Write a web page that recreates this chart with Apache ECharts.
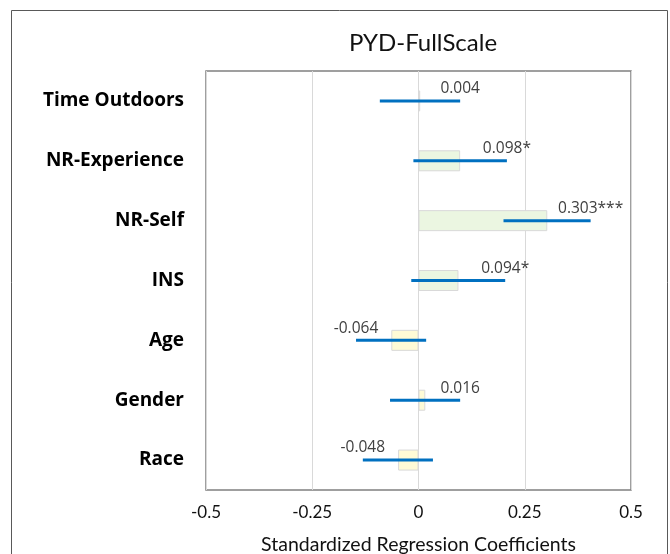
<!DOCTYPE html>
<html>
<head>
<meta charset="utf-8">
<script src="https://cdn.jsdelivr.net/npm/echarts@6/dist/echarts.min.js"></script>
<style>
html,body{margin:0;padding:0;background:#fff;}
#chart{width:670px;height:554px;}
</style>
</head>
<body>
<div id="chart"></div>
<script>
var categories = ['Time Outdoors', 'NR-Experience', 'NR-Self', 'INS', 'Age', 'Gender', 'Race'];
var coefs = [0.004, 0.098, 0.303, 0.094, -0.064, 0.016, -0.048];
var valueLabels = ['0.004', '0.098*', '0.303***', '0.094*', '-0.064', '0.016', '-0.048'];
var ciLow = [-0.091, -0.012, 0.200, -0.017, -0.147, -0.067, -0.131];
var ciHigh = [0.098, 0.208, 0.405, 0.204, 0.018, 0.098, 0.034];
var xTicks = [-0.5, -0.25, 0, 0.25, 0.5];
var barGroup = ['time', 'nr', 'nr', 'nr', 'demo', 'demo', 'demo'];

var groupColors = { time: '#EDEDED', nr: '#EBF6E1', demo: '#FFFBD6' };

var chart = echarts.init(document.getElementById('chart'));

var barData = coefs.map(function (v, i) {
  return { value: v, itemStyle: { color: groupColors[barGroup[i]] } };
});
var errData = categories.map(function (c, i) {
  return [i, ciLow[i], ciHigh[i], coefs[i]];
});

var option = {
  animation: false,
  title: {
    text: 'PYD-FullScale',
    left: 418,
    top: 26,
    textAlign: 'center',
    textStyle: { fontFamily: 'Lato', fontWeight: 'normal', fontSize: 24, color: '#111' }
  },
  graphic: [{
    type: 'rect',
    shape: { x: 11.5, y: 10.5, width: 656, height: 560 },
    style: { fill: 'none', stroke: '#595959', lineWidth: 1 },
    silent: true,
    z: -10
  }],
  grid: {
    left: 206, right: 39, top: 71, bottom: 64,
    outerBoundsMode: 'none',
    containLabel: false,
    show: true, borderColor: '#808080', borderWidth: 1.5
  },
  xAxis: {
    type: 'value',
    min: -0.5, max: 0.5, interval: 0.25,
    axisLine: { show: false },
    axisTick: { show: false },
    splitLine: { show: true, lineStyle: { color: '#D9D9D9', width: 1 } },
    axisLabel: {
      margin: 14,
      fontFamily: 'Lato', fontSize: 17, color: '#111',
      formatter: function (v) {
        var idx = xTicks.indexOf(v);
        return idx >= 0 ? String(xTicks[idx]) : '';
      }
    },
    name: 'Standardized Regression Coefficients',
    nameLocation: 'middle',
    nameGap: 45,
    nameTextStyle: { fontFamily: 'Lato', fontSize: 19.5, color: '#111' }
  },
  yAxis: {
    type: 'category',
    data: categories,
    inverse: true,
    axisLine: { show: false },
    axisTick: { show: false },
    splitLine: { show: false },
    axisLabel: {
      margin: 22,
      padding: [4, 0, 0, 0],
      fontFamily: 'Open Sans', fontWeight: 'bold', fontSize: 19, color: '#000'
    }
  },
  series: [
    {
      type: 'bar',
      data: barData,
      barWidth: 21,
      itemStyle: { borderColor: '#D9D9D9', borderWidth: 1 },
      silent: true,
      z: 2
    },
    {
      type: 'custom',
      data: errData,
      z: 5,
      silent: true,
      encode: { x: [1, 2], y: 0 },
      renderItem: function (params, api) {
        var i = api.value(0);
        var lo = api.coord([api.value(1), i]);
        var hi = api.coord([api.value(2), i]);
        var coef = api.value(3);
        var anchor = coef < 0 ? lo : hi;
        return {
          type: 'group',
          children: [
            {
              type: 'line',
              shape: { x1: lo[0], y1: lo[1], x2: hi[0], y2: hi[1] },
              style: { stroke: '#0070C0', lineWidth: 3 }
            },
            {
              type: 'text',
              style: {
                x: anchor[0], y: anchor[1] - 12,
                text: valueLabels[params.dataIndex],
                align: 'center', verticalAlign: 'middle',
                font: '15.5px "Open Sans"',
                fill: '#404040'
              }
            }
          ]
        };
      }
    }
  ]
};
chart.setOption(option);
</script>
</body>
</html>
